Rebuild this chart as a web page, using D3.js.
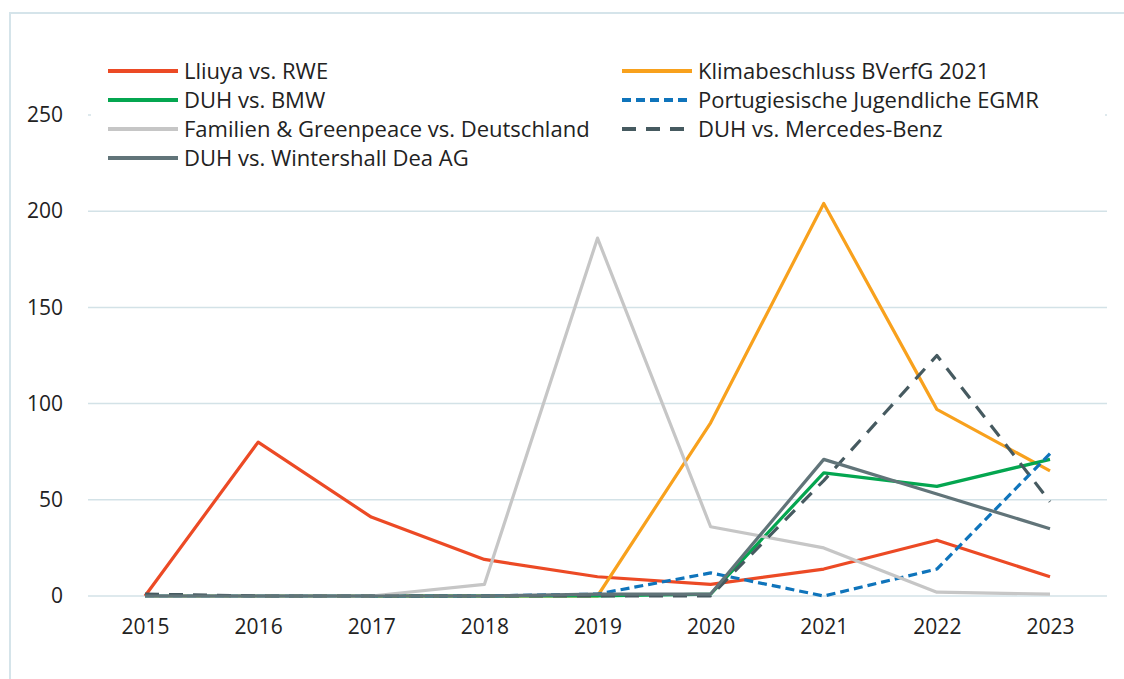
<!DOCTYPE html>
<html>
<head>
<meta charset="utf-8">
<script src="https://cdn.jsdelivr.net/npm/d3@7"></script>
<style>
  body { margin: 0; background: #fff; }
  svg { display: block; font-family: "Open Sans", "Noto Sans", sans-serif; }
</style>
</head>
<body>
<svg id="chart" width="1124" height="679"></svg>
<script>
const years = [2015, 2016, 2017, 2018, 2019, 2020, 2021, 2022, 2023];
const yTicks = [0, 50, 100, 150, 200, 250];

const seriesNames = [
  "Lliuya vs. RWE",
  "Klimabeschluss BVerfG 2021",
  "DUH vs. BMW",
  "Portugiesische Jugendliche EGMR",
  "Familien & Greenpeace vs. Deutschland",
  "DUH vs. Mercedes-Benz",
  "DUH vs. Wintershall Dea AG"
];

const lliuya        = [0, 80, 41, 19, 10, 6, 14, 29, 10];
const klimabeschluss = [0, 0, 0, 0, 0, 90, 204, 97, 65];
const duhBmw        = [0, 0, 0, 0, 0, 1, 64, 57, 71];
const portugiesische = [0, 0, 0, 0, 1, 12, 0, 14, 74];
const familien      = [0, 0, 0, 6, 186, 36, 25, 2, 1];
const duhMercedes   = [1, 0, 0, 0, 0, 0, 60, 125, 49];
const duhWintershall = [0, 0, 0, 0, 1, 1, 71, 53, 35];

const seriesValues = [lliuya, klimabeschluss, duhBmw, portugiesische, familien, duhMercedes, duhWintershall];

const styles = [
  { color: "#ec4a25", dash: null },
  { color: "#f8a11d", dash: null },
  { color: "#04a650", dash: null },
  { color: "#0f74bb", dash: "9,5" },
  { color: "#c6c6c6", dash: null },
  { color: "#465a60", dash: "14,10" },
  { color: "#617479", dash: null }
];

const svg = d3.select("#chart");

// frame
svg.append("rect").attr("x", 10).attr("y", 13).attr("width", 1130).attr("height", 700)
  .attr("fill", "none").attr("stroke", "#d5e4ea").attr("stroke-width", 2);

const x = d3.scalePoint().domain(years).range([145, 1050]);
const y = d3.scaleLinear().domain([0, 250]).range([596, 115]);

// gridlines
svg.append("g").selectAll("line").data(yTicks).join("line")
  .attr("x1", 88).attr("x2", 1107)
  .attr("y1", d => y(d)).attr("y2", d => y(d))
  .attr("stroke", "#d3e2e7").attr("stroke-width", 1.5);

// y labels
const yAxis = d3.axisLeft(y).tickValues(yTicks).tickSize(0).tickPadding(0);
const ya = svg.append("g").attr("transform", "translate(63,0)").call(yAxis);
ya.select(".domain").remove();
ya.selectAll("text").attr("font-size", 21).attr("fill", "#222").attr("font-family", "Open Sans, sans-serif");

// x labels
const xAxis = d3.axisBottom(x).tickSize(0).tickPadding(0).tickFormat(d3.format("d"));
const xa = svg.append("g").attr("transform", "translate(0,619)").call(xAxis);
xa.select(".domain").remove();
xa.selectAll("text").attr("font-size", 21).attr("fill", "#222").attr("font-family", "Open Sans, sans-serif");

// legend background (covers 250 gridline)
svg.append("rect").attr("x", 91).attr("y", 55).attr("width", 1014).attr("height", 118).attr("fill", "#fff");

// lines
const line = d3.line().x((d, i) => x(years[i])).y(d => y(d));
seriesValues.forEach((vals, i) => {
  svg.append("path").datum(vals)
    .attr("d", line)
    .attr("fill", "none")
    .attr("stroke", styles[i].color)
    .attr("stroke-width", 3.2)
    .attr("stroke-linejoin", "round")
    .attr("stroke-dasharray", styles[i].dash);
});

// legend
const legendPos = [
  [108, 71], [622, 71],
  [108, 100], [622, 100],
  [108, 129], [622, 129],
  [108, 158]
];
seriesNames.forEach((name, i) => {
  const [lx, ly] = legendPos[i];
  const g = svg.append("g");
  g.append("line").attr("x1", lx).attr("x2", lx + 70).attr("y1", ly).attr("y2", ly)
    .attr("stroke", styles[i].color).attr("stroke-width", 4)
    .attr("stroke-dasharray", styles[i].dash);
  g.append("text").attr("x", lx + 76).attr("y", ly).attr("dy", "0.35em")
    .attr("font-size", 22).attr("fill", "#222").text(name);
});
</script>
</body>
</html>
